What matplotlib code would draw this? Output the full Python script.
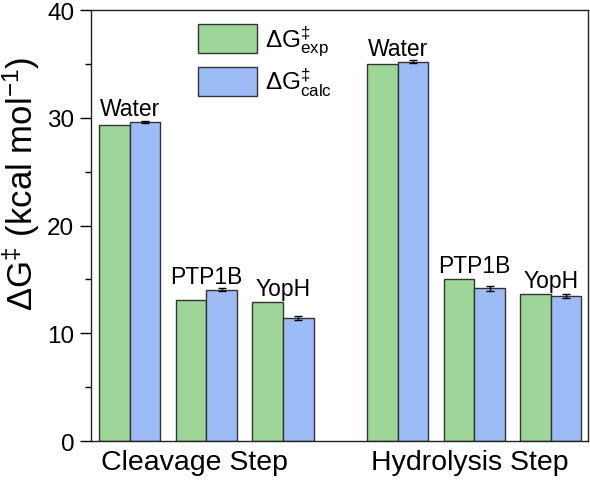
import matplotlib
matplotlib.use("Agg")
import matplotlib.pyplot as plt
import numpy as np

plt.rcParams['font.family'] = ['Liberation Sans', 'DejaVu Sans']
plt.rcParams['mathtext.fontset'] = 'custom'
plt.rcParams['mathtext.rm'] = 'Liberation Sans'
plt.rcParams['mathtext.it'] = 'Liberation Sans'
plt.rcParams['mathtext.default'] = 'regular'

steps = ["Cleavage Step", "Hydrolysis Step"]
systems = ["Water", "PTP1B", "YopH", "Water", "PTP1B", "YopH"]
dg_exp = [29.35, 13.1, 12.95, 35.0, 15.07, 13.67]
dg_calc = [29.6, 14.05, 11.45, 35.2, 14.17, 13.46]
dg_calc_err = [0.1, 0.12, 0.2, 0.15, 0.22, 0.22]

positions = np.array([0, 1, 2, 3.5, 4.5, 5.5])
step_label_pos = [0.84, 4.44]

green = "#9ED69A"
blue = "#9DBCF5"
edge = "#333333"
w = 0.4

fig = plt.figure(figsize=(5.9, 4.81), dpi=100)
ax = fig.add_axes([0.154, 0.081, 0.843, 0.896])

ax.bar(positions - w / 2, dg_exp, width=w, color=green, edgecolor=edge, linewidth=1.0,
       label=r'$\Delta G^{‡}_{exp}$')
ax.bar(positions + w / 2, dg_calc, width=w, color=blue, edgecolor=edge, linewidth=1.0,
       label=r'$\Delta G^{‡}_{calc}$')
ax.errorbar(positions + w / 2, dg_calc, yerr=dg_calc_err, fmt='none', ecolor='black',
            elinewidth=1.0, capsize=3, capthick=1.0)

for p, s, a, b in zip(positions, systems, dg_exp, dg_calc):
    ax.text(p, max(a, b) + 0.65, s, ha='center', va='baseline', fontsize=16.5)

ax.set_xlim(-0.51, 5.99)
ax.set_ylim(0, 40)
ax.set_yticks([0, 10, 20, 30, 40])
ax.set_yticks([5, 15, 25, 35], minor=True)
ax.tick_params(axis='y', which='major', length=8, width=1.0, labelsize=17.5,
               direction='out', pad=4)
ax.tick_params(axis='y', which='minor', length=4, width=1.0, direction='out')
ax.set_xticks(step_label_pos)
ax.set_xticklabels(steps, fontsize=20.5)
ax.tick_params(axis='x', length=0, pad=6)

for sp in ax.spines.values():
    sp.set_linewidth(1.0)
    sp.set_color('#222222')

ax.set_ylabel(r'$\Delta G^{‡}$ (kcal mol$^{-1}$)', fontsize=25)
ax.yaxis.set_label_coords(-0.098, 0.6)

ax.legend(loc='upper left', bbox_to_anchor=(0.216, 0.968), frameon=False, fontsize=17.5,
          handlelength=2.43, handleheight=1.45, handletextpad=0.3, labelspacing=0.3,
          borderaxespad=0, borderpad=0)

fig.savefig("out.png", dpi=100)
